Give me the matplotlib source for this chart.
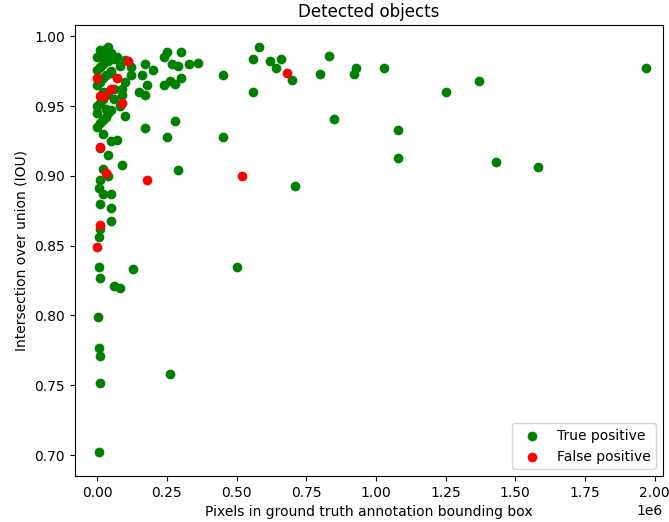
import matplotlib
matplotlib.use('Agg')
import matplotlib.pyplot as plt

# true positives: pixels (1e6) and IOU
tp_x = [1.97, 1.37, 1.25, 1.43, 1.58, 1.08, 1.08, 1.03, 0.93, 0.92, 0.83, 0.80, 0.85, 0.71, 0.70,
        0.66, 0.64, 0.62, 0.58, 0.56, 0.56, 0.45, 0.45, 0.50, 0.26, 0.36, 0.33, 0.30, 0.29, 0.27,
        0.25, 0.24, 0.24, 0.26, 0.28, 0.30, 0.28, 0.25, 0.29, 0.17, 0.16, 0.20, 0.18, 0.15, 0.17,
        0.17, 0.12, 0.10, 0.09, 0.10, 0.08, 0.09, 0.13, 0.06, 0.08,
        0.005, 0.01, 0.01, 0.005, 0.003, 0.01, 0.005, 0.005, 0.01, 0.01, 0.02, 0.005, 0.01, 0.05,
        0.04, 0.05, 0.05, 0.04, 0.02, 0.01, 0.05, 0.07, 0.02,
        0.00, 0.01, 0.02, 0.03, 0.04, 0.05, 0.00, 0.01, 0.02, 0.03, 0.04, 0.06, 0.00, 0.01, 0.02,
        0.03, 0.05, 0.00, 0.01, 0.02, 0.04, 0.06, 0.00, 0.02, 0.03, 0.05, 0.01, 0.03, 0.04, 0.00,
        0.02, 0.05, 0.07, 0.08, 0.10, 0.03, 0.06, 0.09, 0.12]
tp_y = [0.977, 0.968, 0.960, 0.910, 0.906, 0.933, 0.913, 0.977, 0.977, 0.973, 0.986, 0.973, 0.941,
        0.893, 0.969, 0.984, 0.977, 0.982, 0.992, 0.984, 0.960, 0.972, 0.928, 0.835, 0.758, 0.981,
        0.980, 0.989, 0.979, 0.980, 0.989, 0.985, 0.965, 0.968, 0.966, 0.970, 0.939, 0.928, 0.904,
        0.980, 0.972, 0.976, 0.965, 0.960, 0.958, 0.934, 0.972, 0.967, 0.958, 0.943, 0.950, 0.908,
        0.833, 0.821, 0.820,
        0.702, 0.752, 0.771, 0.777, 0.799, 0.827, 0.835, 0.856, 0.862, 0.880, 0.887, 0.891, 0.897,
        0.887, 0.900, 0.877, 0.868, 0.915, 0.905, 0.920, 0.925, 0.926, 0.930,
        0.935, 0.938, 0.940, 0.942, 0.945, 0.947, 0.950, 0.952, 0.955, 0.958, 0.960, 0.962, 0.965,
        0.967, 0.970, 0.972, 0.974, 0.976, 0.978, 0.980, 0.982, 0.984, 0.985, 0.986, 0.987, 0.988,
        0.990, 0.991, 0.992, 0.945, 0.960, 0.975, 0.985, 0.979, 0.983, 0.948, 0.955, 0.962, 0.978]

# false positives
fp_x = [0.11, 0.00, 0.07, 0.01, 0.05, 0.025, 0.09, 0.01, 0.03, 0.18, 0.52, 0.68, 0.01, 0.00]
fp_y = [0.982, 0.970, 0.970, 0.957, 0.962, 0.957, 0.952, 0.921, 0.902, 0.897, 0.900, 0.974,
        0.865, 0.849]

fig = plt.figure(figsize=(6.69, 5.22), dpi=100)
ax = fig.add_axes([0.112, 0.088, 0.879, 0.864])
ax.scatter([v * 1e6 for v in tp_x], tp_y, c='green', label='True positive')
ax.scatter([v * 1e6 for v in fp_x], fp_y, c='red', label='False positive')
ax.set_xlim(-0.08e6, 2.03e6)
ax.set_ylim(0.685, 1.008)
ax.set_title('Detected objects')
ax.set_xlabel('Pixels in ground truth annotation bounding box')
ax.set_ylabel('Intersection over union (IOU)')
ax.legend(loc='lower right')
fig.savefig('out.png')
